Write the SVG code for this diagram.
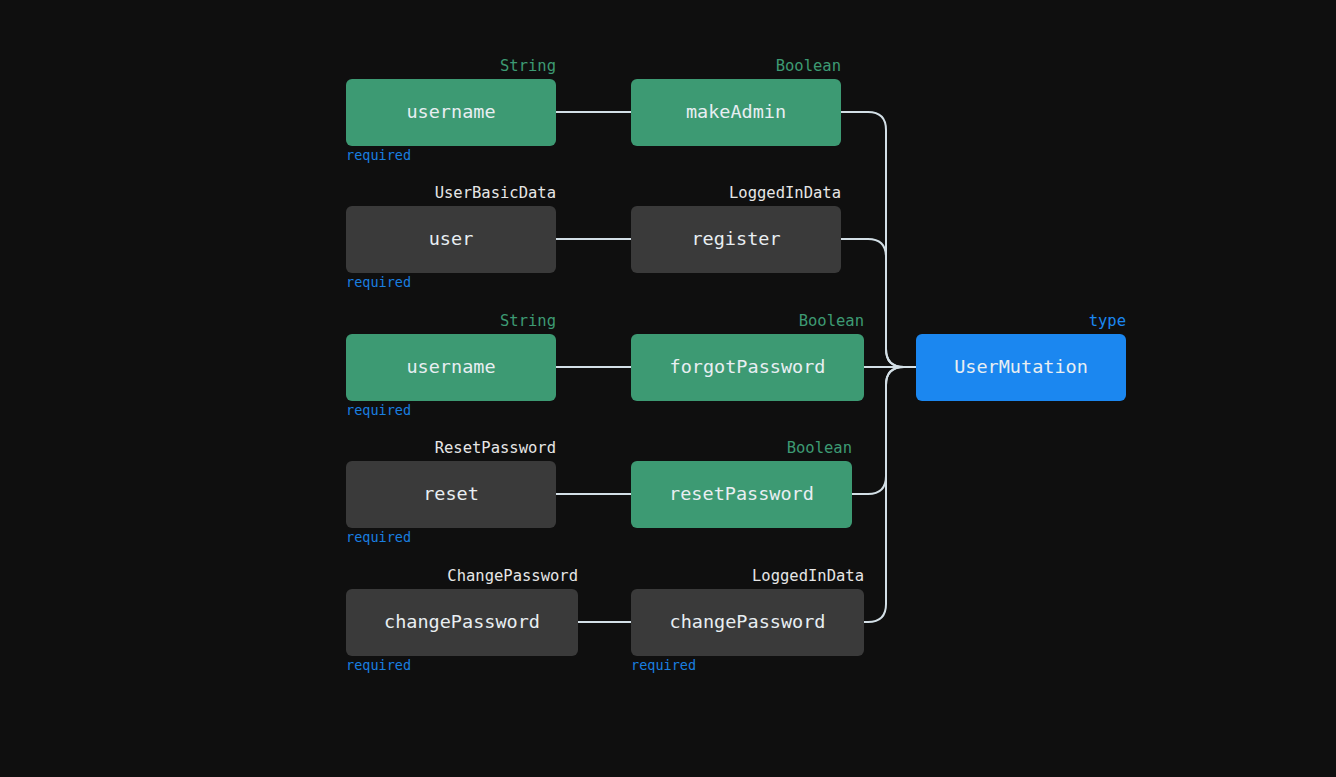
<svg xmlns="http://www.w3.org/2000/svg" width="1336" height="777" viewBox="0 0 1336 777">
<style>
.bg{fill:#0f0f0f}
.g{fill:#3d9a73}
.d{fill:#3a3a3a}
.b{fill:#1b87f0}
.t{font-family:"DejaVu Sans Mono","Liberation Mono",monospace;font-size:18.5px;fill:#e8eef2;text-anchor:middle;dominant-baseline:central}
.lg{font-family:"DejaVu Sans Mono","Liberation Mono",monospace;font-size:15.5px;fill:#3d9a73;text-anchor:end}
.lw{font-family:"DejaVu Sans Mono","Liberation Mono",monospace;font-size:15.5px;fill:#e6e6e6;text-anchor:end}
.lb{font-family:"DejaVu Sans Mono","Liberation Mono",monospace;font-size:15.5px;fill:#1b87f0;text-anchor:end}
.rq{font-family:"DejaVu Sans Mono","Liberation Mono",monospace;font-size:13.5px;fill:#1a7fe0}
.c{fill:none;stroke:#d3dfe6;stroke-width:2}
</style>
<rect class="bg" width="1336" height="777"/>
<g id="connectors">
<path class="c" d="M556,112 H631"/>
<path class="c" d="M556,239 H631"/>
<path class="c" d="M556,367 H631"/>
<path class="c" d="M556,494 H631"/>
<path class="c" d="M578,622 H631"/>
<path class="c" d="M841,112 H868 Q886,112 886,130 V349 Q886,367 904,367 H916"/>
<path class="c" d="M841,239 H868 Q886,239 886,257 V349 Q886,367 904,367"/>
<path class="c" d="M864,367 H916"/>
<path class="c" d="M852,494 H868 Q886,494 886,476 V385 Q886,367 904,367"/>
<path class="c" d="M864,622 H868 Q886,622 886,604 V385 Q886,367 904,367"/>
</g>
<g id="n-username1"><text class="lg" x="556" y="71">String</text><rect class="g" x="346" y="79" width="210" height="67" rx="6"/><text class="t" x="451" y="111">username</text><text class="rq" x="346" y="160">required</text></g>
<g id="n-makeAdmin"><text class="lg" x="841" y="71">Boolean</text><rect class="g" x="631" y="79" width="210" height="67" rx="6"/><text class="t" x="736" y="111">makeAdmin</text></g>
<g id="n-user"><text class="lw" x="556" y="198">UserBasicData</text><rect class="d" x="346" y="206" width="210" height="67" rx="6"/><text class="t" x="451" y="238">user</text><text class="rq" x="346" y="287">required</text></g>
<g id="n-register"><text class="lw" x="841" y="198">LoggedInData</text><rect class="d" x="631" y="206" width="210" height="67" rx="6"/><text class="t" x="736" y="238">register</text></g>
<g id="n-username2"><text class="lg" x="556" y="326">String</text><rect class="g" x="346" y="334" width="210" height="67" rx="6"/><text class="t" x="451" y="366">username</text><text class="rq" x="346" y="415">required</text></g>
<g id="n-forgotPassword"><text class="lg" x="864" y="326">Boolean</text><rect class="g" x="631" y="334" width="233" height="67" rx="6"/><text class="t" x="747.5" y="366">forgotPassword</text></g>
<g id="n-UserMutation"><text class="lb" x="1126" y="326">type</text><rect class="b" x="916" y="334" width="210" height="67" rx="6"/><text class="t" x="1021" y="366">UserMutation</text></g>
<g id="n-reset"><text class="lw" x="556" y="453">ResetPassword</text><rect class="d" x="346" y="461" width="210" height="67" rx="6"/><text class="t" x="451" y="493">reset</text><text class="rq" x="346" y="542">required</text></g>
<g id="n-resetPassword"><text class="lg" x="852" y="453">Boolean</text><rect class="g" x="631" y="461" width="221" height="67" rx="6"/><text class="t" x="741.5" y="493">resetPassword</text></g>
<g id="n-changePassword1"><text class="lw" x="578" y="581">ChangePassword</text><rect class="d" x="346" y="589" width="232" height="67" rx="6"/><text class="t" x="462" y="621">changePassword</text><text class="rq" x="346" y="670">required</text></g>
<g id="n-changePassword2"><text class="lw" x="864" y="581">LoggedInData</text><rect class="d" x="631" y="589" width="233" height="67" rx="6"/><text class="t" x="747.5" y="621">changePassword</text><text class="rq" x="631" y="670">required</text></g>
</svg>
